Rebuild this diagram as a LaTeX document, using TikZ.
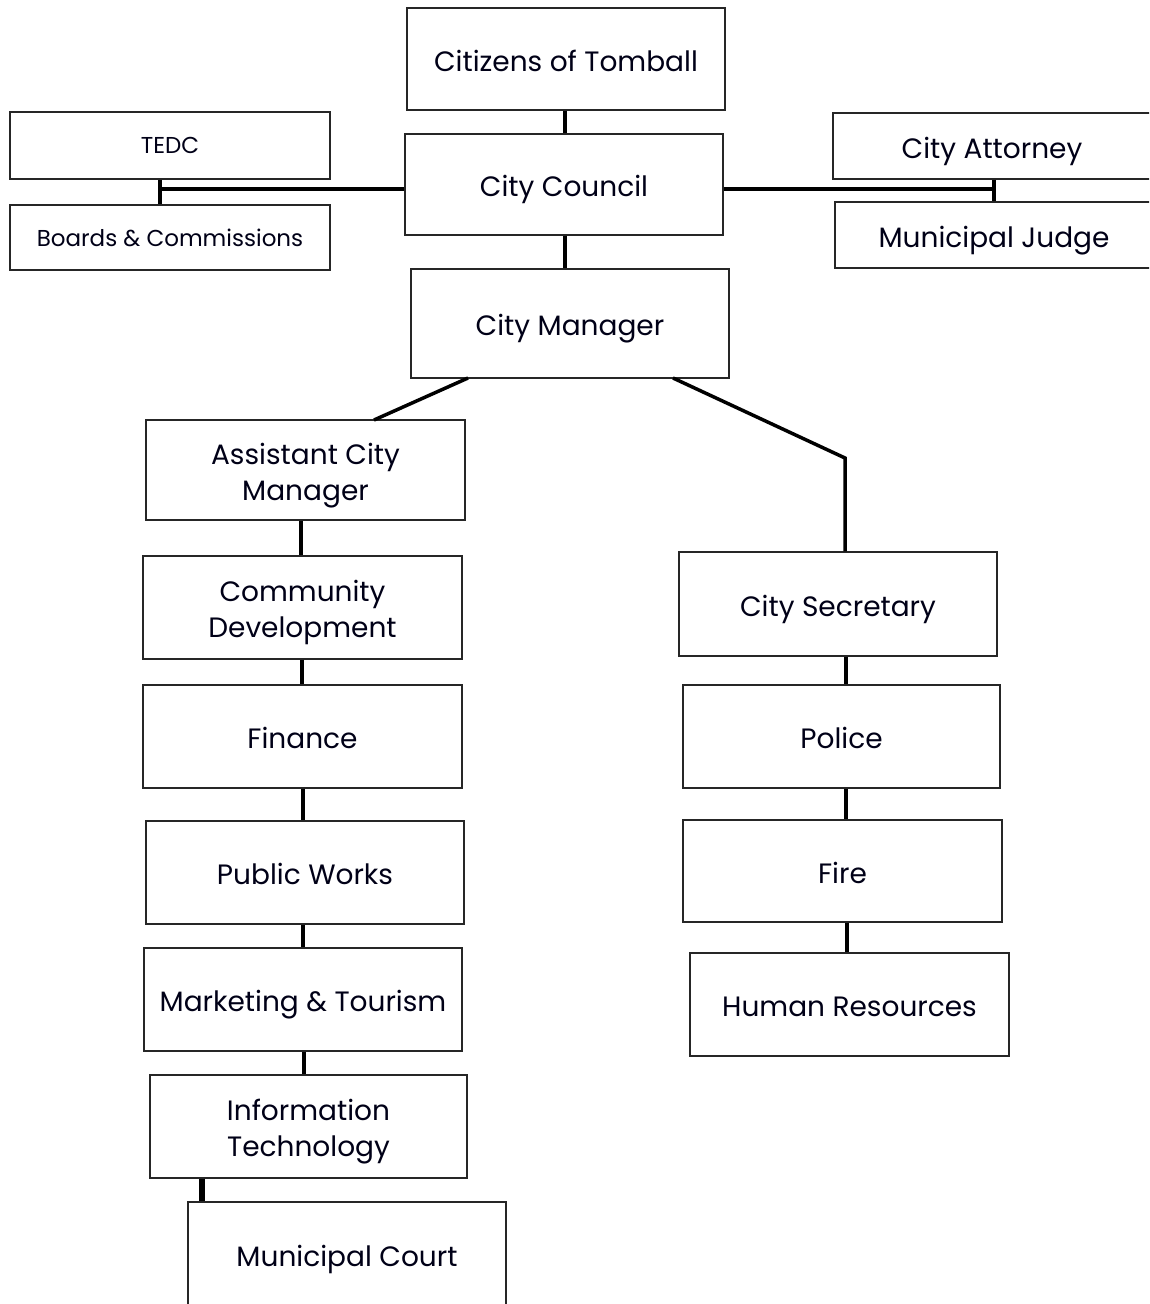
\documentclass[tikz,border=0pt]{standalone}
\usepackage{fontspec}
\setmainfont{Poppins}
\newcommand{\boxtext}[1]{\raisebox{-5pt}[\height][\depth]{\begin{tabular}{@{}c@{}}#1\end{tabular}}}
\begin{document}
\begin{tikzpicture}[x=1pt,y=-1pt,
  box/.style={draw=black!85, line width=1.3pt, inner sep=0pt, align=center, text=black!85!blue!60!black},
  big/.style={font=\fontsize{28}{36}\selectfont},
  small/.style={font=\fontsize{23}{28}\selectfont},
  conn/.style={line width=3.5pt, black}]
\clip (0,0) rectangle (1149,1304);
\fill[white] (0,0) rectangle (1149,1304);
\node[box,big,minimum width=318,minimum height=102] (cit) at (566,59) {\boxtext{Citizens of Tomball}};
\node[box,big,minimum width=318,minimum height=101] (cc) at (564,184.5) {\boxtext{City Council}};
\node[box,small,minimum width=320,minimum height=67] (tedc) at (170,145.5) {TEDC};
\node[box,small,minimum width=320,minimum height=65] (bc) at (170,237.5) {Boards \& Commissions};
\node[box,big,minimum width=340,minimum height=66] (ca) at (1003,146) {\boxtext{City Attorney}\hspace{22pt}};
\node[box,big,minimum width=340,minimum height=66] (mj) at (1005,235) {\boxtext{Municipal Judge}\hspace{22pt}};
\node[box,big,minimum width=318,minimum height=109] (cm) at (570,323.5) {\boxtext{City Manager}};
\node[box,big,minimum width=319,minimum height=100] (acm) at (305.5,470) {\boxtext{Assistant City\\Manager}};
\node[box,big,minimum width=319,minimum height=103] (cd) at (302.5,607.5) {\boxtext{Community\\Development}};
\node[box,big,minimum width=319,minimum height=103] (fin) at (302.5,736.5) {\boxtext{Finance}};
\node[box,big,minimum width=318,minimum height=103] (pw) at (305,872.5) {\boxtext{Public Works}};
\node[box,big,minimum width=318,minimum height=103] (mt) at (303,999.5) {\boxtext{Marketing \& Tourism}};
\node[box,big,minimum width=317,minimum height=103] (it) at (308.5,1126.5) {\boxtext{Information\\Technology}};
\node[box,big,minimum width=318,minimum height=104] (mc) at (347,1254) {\boxtext{Municipal Court}};
\node[box,big,minimum width=318,minimum height=104] (cs) at (838,604) {\boxtext{City Secretary}};
\node[box,big,minimum width=317,minimum height=103] (pol) at (841.5,736.5) {\boxtext{Police}};
\node[box,big,minimum width=319,minimum height=102] (fire) at (842.5,871) {\boxtext{Fire}};
\node[box,big,minimum width=319,minimum height=103] (hr) at (849.5,1004.5) {\boxtext{Human Resources}};
% connectors
\coordinate (jl) at (160,189);
\coordinate (jr) at (994,189);
\coordinate (bend) at (845,458);
\coordinate (acmtop) at (374,420);
\coordinate (cmL) at (468,378);
\coordinate (cmR) at (673,378);
\draw[conn] (cit.south -| 565,0) -- (cc.north -| 565,0);
\draw[conn] (cc.west |- jl) -- (jl);
\draw[conn] (jl |- tedc.south) -- (jl |- bc.north);
\draw[conn] (cc.east |- jr) -- (jr);
\draw[conn] (jr |- ca.south) -- (jr |- mj.north);
\draw[conn] (cc.south -| 565,0) -- (cm.north -| 565,0);
\draw[conn] (cmL) -- (acmtop);
\draw[conn] (cmR) -- (bend) -- (bend |- cs.north);
\draw[conn] (acm.south -| 301,0) -- (cd.north -| 301,0);
\draw[conn] (cd.south -| 302,0) -- (fin.north -| 302,0);
\draw[conn] (fin.south -| 303,0) -- (pw.north -| 303,0);
\draw[conn] (pw.south -| 303,0) -- (mt.north -| 303,0);
\draw[conn] (mt.south -| 304,0) -- (it.north -| 304,0);
\draw[conn,line width=6pt] (it.south -| 202,0) -- (mc.north -| 202,0);
\draw[conn] (cs.south -| 846,0) -- (pol.north -| 846,0);
\draw[conn] (pol.south -| 846,0) -- (fire.north -| 846,0);
\draw[conn] (fire.south -| 847,0) -- (hr.north -| 847,0);
\end{tikzpicture}
\end{document}
